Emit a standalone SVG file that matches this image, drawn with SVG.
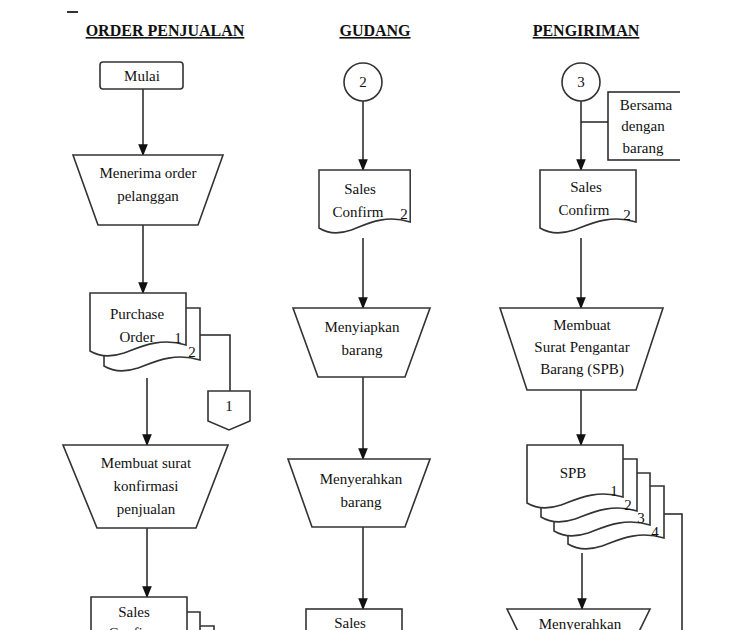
<svg xmlns="http://www.w3.org/2000/svg" width="750" height="630" viewBox="0 0 750 630">
<defs>
<style>
.s{fill:#fff;stroke:#333;stroke-width:1.6}
.l{fill:none;stroke:#222;stroke-width:1.5}
text{font-family:"Liberation Serif","Times New Roman",serif;font-size:15px;fill:#111;text-anchor:middle}
.h{font-weight:bold;font-size:16px;text-decoration:underline}
</style>
<marker id="a" viewBox="0 0 10 10" refX="9" refY="5" markerWidth="8" markerHeight="8" orient="auto"><path d="M0,1 L10,5 L0,9 z" fill="#111"/></marker>
<path id="doc" d="M0,0 H96 V52 C70,44 50,54 34,60 C22,64 10,64 0,58 Z"/>
</defs>
<rect width="750" height="630" fill="#fff"/>
<line x1="67" y1="12" x2="78" y2="12" stroke="#333" stroke-width="2"/>
<g id="headers">
<text class="h" x="165" y="36">ORDER PENJUALAN</text>
<text class="h" x="375" y="36">GUDANG</text>
<text class="h" x="586" y="36">PENGIRIMAN</text>
</g>
<g id="connectors">
<line class="l" x1="143" y1="89" x2="143" y2="155" marker-end="url(#a)"/>
<line class="l" x1="143" y1="225" x2="143" y2="293" marker-end="url(#a)"/>
<polyline class="l" points="200,335 230,335 230,391"/>
<line class="l" x1="147" y1="378" x2="147" y2="445" marker-end="url(#a)"/>
<line class="l" x1="147" y1="528" x2="147" y2="597" marker-end="url(#a)"/>
<line class="l" x1="363" y1="101" x2="363" y2="170" marker-end="url(#a)"/>
<line class="l" x1="363" y1="238" x2="363" y2="308" marker-end="url(#a)"/>
<line class="l" x1="363" y1="377" x2="363" y2="459" marker-end="url(#a)"/>
<line class="l" x1="363" y1="527" x2="363" y2="609" marker-end="url(#a)"/>
<line class="l" x1="581" y1="101" x2="581" y2="170" marker-end="url(#a)"/>
<line class="l" x1="581" y1="122" x2="608" y2="122"/>
<line class="l" x1="581" y1="238" x2="581" y2="308" marker-end="url(#a)"/>
<line class="l" x1="581" y1="390" x2="581" y2="445" marker-end="url(#a)"/>
<line class="l" x1="582" y1="553" x2="582" y2="609" marker-end="url(#a)"/>
<polyline class="l" points="664,514 682,514 682,630"/>
</g>
<g id="mulai"><rect class="s" x="100" y="62" width="83" height="27" rx="3"/><text x="142" y="81">Mulai</text></g>
<g id="menerima"><polygon class="s" points="73,155 223,155 198,225 98,225"/><text x="148" y="178">Menerima order</text><text x="148" y="201">pelanggan</text></g>
<g id="po">
<use href="#doc" class="s" transform="translate(104,308)"/>
<use href="#doc" class="s" transform="translate(90,293)"/>
<text x="137" y="319">Purchase</text><text x="137" y="342">Order</text>
<text x="178" y="343">1</text><text x="192" y="357">2</text>
</g>
<g id="off1"><polygon class="s" points="208,391 250,391 250,421 229,430 208,421"/><text x="229" y="411">1</text></g>
<g id="membuat-sk"><polygon class="s" points="63,445 228,445 196,528 97,528"/><text x="146" y="468">Membuat surat</text><text x="146" y="491">konfirmasi</text><text x="146" y="514">penjualan</text></g>
<g id="sc1">
<use href="#doc" class="s" transform="translate(118,626)"/>
<use href="#doc" class="s" transform="translate(104,612)"/>
<use href="#doc" class="s" transform="translate(91,597)"/>
<text x="134" y="617">Sales</text><text x="134" y="638">Confirm</text>
</g>
<g id="c2"><circle class="s" cx="363" cy="82" r="19"/><text x="363" y="87">2</text></g>
<g id="sc2"><use href="#doc" class="s" transform="translate(319,170) scale(0.95,1)"/><text x="360" y="194">Sales</text><text x="358" y="217">Confirm</text><text x="404" y="219">2</text></g>
<g id="menyiapkan"><polygon class="s" points="293,308 430,308 405,377 318,377"/><text x="362" y="332">Menyiapkan</text><text x="362" y="355">barang</text></g>
<g id="menyerahkan"><polygon class="s" points="288,459 430,459 405,527 312,527"/><text x="361" y="484">Menyerahkan</text><text x="361" y="507">barang</text></g>
<g id="sales3"><rect class="s" x="306" y="609" width="96" height="30"/><text x="350" y="628">Sales</text></g>
<g id="c3"><circle class="s" cx="581" cy="82" r="19"/><text x="581" y="87">3</text></g>
<g id="note"><polyline class="l" points="680,92 608,92 608,160 680,160"/><text x="646" y="110">Bersama</text><text x="643" y="131">dengan</text><text x="643" y="153">barang</text></g>
<g id="sc3"><use href="#doc" class="s" transform="translate(540,170)"/><text x="586" y="192">Sales</text><text x="584" y="215">Confirm</text><text x="627" y="220">2</text></g>
<g id="membuat-spb"><polygon class="s" points="500,308 663,308 636,390 527,390"/><text x="582" y="330">Membuat</text><text x="582" y="352">Surat Pengantar</text><text x="582" y="374">Barang (SPB)</text></g>
<g id="spb">
<use href="#doc" class="s" transform="translate(568,486)"/>
<use href="#doc" class="s" transform="translate(554,473)"/>
<use href="#doc" class="s" transform="translate(541,459)"/>
<use href="#doc" class="s" transform="translate(527,445)"/>
<text x="573" y="478">SPB</text>
<text x="614" y="496">1</text><text x="628" y="510">2</text><text x="641" y="523">3</text><text x="655" y="537">4</text>
</g>
<g id="menyerahkan3"><polygon class="s" points="507,609 650,609 630,650 527,650"/><text x="580" y="629">Menyerahkan</text></g>
</svg>
